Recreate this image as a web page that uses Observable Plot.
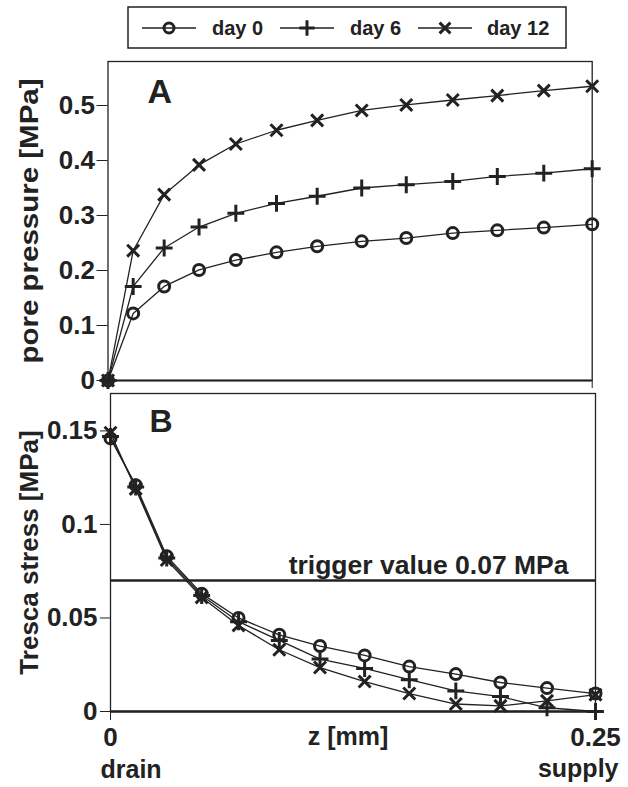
<!DOCTYPE html>
<html><head><meta charset="utf-8">
<script src="https://cdn.jsdelivr.net/npm/d3@7"></script>
<script src="https://cdn.jsdelivr.net/npm/@observablehq/plot@0.6"></script>
<style>
body{margin:0;background:#fff;}
#wrap{width:628px;height:787px;overflow:hidden;font-family:"Liberation Sans",Arial,sans-serif;font-weight:bold;color:#222;}
#wrap svg{display:block;}
</style></head><body><div id="wrap"></div>
<script>
// ---- data ----
const zValues = [0, 0.013, 0.029, 0.047, 0.066, 0.087, 0.108, 0.131, 0.154, 0.178, 0.201, 0.225, 0.25];
const days = ["day 0", "day 6", "day 12"];
const symbols = ["circle", "plus", "times"];
const poreDay0  = [0, 0.122, 0.171, 0.201, 0.219, 0.233, 0.244, 0.253, 0.259, 0.268, 0.273, 0.278, 0.284];
const poreDay6  = [0, 0.171, 0.241, 0.279, 0.304, 0.322, 0.335, 0.350, 0.356, 0.362, 0.371, 0.377, 0.385];
const poreDay12 = [0, 0.236, 0.338, 0.392, 0.430, 0.455, 0.473, 0.491, 0.501, 0.510, 0.518, 0.527, 0.535];
const trescaDay0  = [0.146, 0.121, 0.083, 0.063, 0.050, 0.041, 0.035, 0.030, 0.024, 0.020, 0.0155, 0.0125, 0.0096];
const trescaDay6  = [0.147, 0.120, 0.082, 0.062, 0.048, 0.038, 0.028, 0.023, 0.017, 0.011, 0.008, 0.002, 0.0];
const trescaDay12 = [0.149, 0.119, 0.081, 0.061, 0.046, 0.033, 0.0235, 0.016, 0.0096, 0.004, 0.003, 0.0057, 0.009];
const triggerValue = 0.07;
const triggerLabel = "trigger value 0.07 MPa";
const poreTicks = [0, 0.1, 0.2, 0.3, 0.4, 0.5];
const trescaTicks = [0, 0.05, 0.1, 0.15];
const zTicks = [0, 0.25];
const endLabels = ["drain", "supply"];
const panelLabels = ["A", "B"];
const yLabels = ["pore pressure [MPa]", "Tresca stress [MPa]"];
const xLabel = "z [mm]";

// ---- build tables ----
function rows(series) {
  return series.flatMap((vals, i) => vals.map((v, j) => ({z: zValues[j], v, day: days[i]})));
}
const poreRows = rows([poreDay0, poreDay6, poreDay12]);
const trescaRows = rows([trescaDay0, trescaDay6, trescaDay12]);

const ink = "#222";
const font = "Liberation Sans, Arial, sans-serif";
const baseStyle = {fontFamily: font, fontWeight: "bold", color: ink, background: "white", overflow: "visible"};
const wrap = document.getElementById("wrap");

// ---- legend ----
const leg = d3.create("svg").attr("width", 628).attr("height", 55);
leg.append("rect").attr("x", 128).attr("y", 7).attr("width", 438).attr("height", 41)
  .attr("fill", "none").attr("stroke", ink).attr("stroke-width", 1.5);
const symMap = {circle: d3.symbolCircle, plus: d3.symbolPlus, times: d3.symbolTimes};
const legPos = [[142, 212], [280, 350], [418, 487]];
days.forEach((d, i) => {
  const [x0, tx] = legPos[i];
  leg.append("line").attr("x1", x0).attr("x2", x0 + 54).attr("y1", 28).attr("y2", 28)
    .attr("stroke", ink).attr("stroke-width", 1.3);
  leg.append("path").attr("transform", `translate(${x0 + 27},28)`)
    .attr("d", d3.symbol(symMap[symbols[i]], Math.PI * 5 * 5)())
    .attr("fill", "none").attr("stroke", ink).attr("stroke-width", 3);
  leg.append("text").attr("x", tx).attr("y", 35).text(d)
    .attr("font-family", font).attr("font-weight", "bold").attr("font-size", 20).attr("fill", ink);
});
wrap.appendChild(leg.node());

const dotOpts = {x: "z", y: "v", symbol: "day", stroke: ink, fill: "none", r: 5.5, strokeWidth: 3};

// ---- panel A ----
const plotA = Plot.plot({
  width: 628, height: 335,
  marginTop: 6, marginBottom: 10, marginLeft: 107.5, marginRight: 36.3,
  x: {domain: [0, 0.25]},
  y: {domain: [0, 0.58]},
  symbol: {domain: days, range: symbols},
  style: baseStyle,
  marks: [
    Plot.frame({stroke: ink, strokeWidth: 1.3}),
    Plot.ruleY([0], {stroke: ink, strokeWidth: 2.2}),
    Plot.axisY({ticks: poreTicks, tickFormat: d => String(d), tickSize: 11, tickPadding: 2,
      fontSize: 26, label: yLabels[0], labelAnchor: "center", labelOffset: 88, labelArrow: "none"}),
    Plot.axisX({ticks: zTicks, tickSize: 8, tickFormat: () => "", label: null}),
    Plot.line(poreRows, {x: "z", y: "v", z: "day", stroke: ink, strokeWidth: 1.3}),
    Plot.dot(poreRows, dotOpts),
    Plot.text([panelLabels[0]], {frameAnchor: "top-left", textAnchor: "start", lineAnchor: "top",
      dx: 39.5, dy: 17, fontSize: 34, fontWeight: "bold", fill: ink})
  ]
});
wrap.appendChild(plotA);

// ---- panel B ----
const plotB = Plot.plot({
  width: 628, height: 397,
  marginTop: 3, marginBottom: 76, marginLeft: 110, marginRight: 33,
  x: {domain: [0, 0.25]},
  y: {domain: [0, 0.17]},
  symbol: {domain: days, range: symbols},
  style: baseStyle,
  marks: [
    Plot.frame({stroke: ink, strokeWidth: 1.3}),
    Plot.ruleY([0], {stroke: ink, strokeWidth: 2.4}),
    Plot.ruleY([triggerValue], {stroke: ink, strokeWidth: 2.6}),
    Plot.text([triggerValue], {y: d => d, text: () => triggerLabel, frameAnchor: "right", textAnchor: "end",
      lineAnchor: "bottom", dx: -27, dy: -7, fontSize: 26.5, fontWeight: "bold", fill: ink}),
    Plot.axisY({ticks: trescaTicks, tickFormat: d => String(d), tickSize: 10, tickPadding: 3,
      fontSize: 26, label: yLabels[1], labelAnchor: "center", labelOffset: 91, labelArrow: "none"}),
    Plot.axisX({ticks: zTicks, tickFormat: d => String(d), tickSize: 9, tickPadding: 7, fontSize: 26, label: null}),
    Plot.text([xLabel], {frameAnchor: "bottom", dx: -5, dy: 33, fontSize: 25, fontWeight: "bold", fill: ink}),
    Plot.text([endLabels[0]], {x: () => zTicks[0], frameAnchor: "bottom", textAnchor: "start",
      dx: -10, dy: 66, fontSize: 25, fontWeight: "bold", fill: ink}),
    Plot.text([endLabels[1]], {x: () => zTicks[1], frameAnchor: "bottom", textAnchor: "end",
      dx: 23, dy: 65, fontSize: 25, fontWeight: "bold", fill: ink}),
    Plot.line(trescaRows, {x: "z", y: "v", z: "day", stroke: ink, strokeWidth: 1.3}),
    Plot.dot(trescaRows, dotOpts),
    Plot.text([panelLabels[1]], {frameAnchor: "top-left", textAnchor: "start", lineAnchor: "top",
      dx: 39, dy: 16, fontSize: 32, fontWeight: "bold", fill: ink})
  ]
});
wrap.appendChild(plotB);

// axis text sizing
for (const p of [plotA, plotB]) {
  d3.select(p).selectAll('g[aria-label="y-axis tick label"], g[aria-label="x-axis tick label"]')
    .attr("font-size", 26).attr("font-weight", "bold");
}
d3.select(plotA).selectAll('g[aria-label="y-axis label"] text')
  .attr("font-size", 26).attr("textLength", 285).attr("lengthAdjust", "spacingAndGlyphs");
d3.select(plotB).selectAll('g[aria-label="y-axis label"] text')
  .attr("font-size", 26);
</script></body></html>
